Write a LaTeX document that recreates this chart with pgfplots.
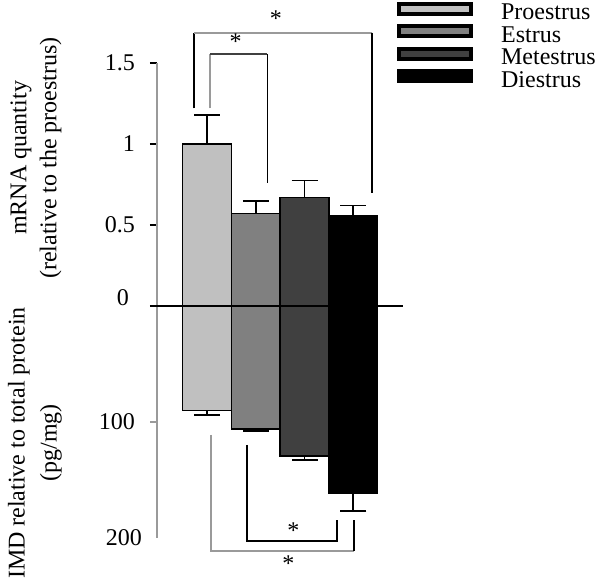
\documentclass[border=0pt]{standalone}
\usepackage{fontspec}
\setmainfont{Liberation Serif}
\usepackage{pgfplots}
\pgfplotsset{compat=1.18}
\definecolor{cP}{HTML}{C0C0C0}
\definecolor{cE}{HTML}{808080}
\definecolor{cM}{HTML}{404040}
\definecolor{cD}{HTML}{000000}
\definecolor{axgray}{HTML}{9A9A9A}

\pgfplotsset{
  halfax/.style={
    scale only axis, width=123pt,
    xmin=-1.026, xmax=4.02,
    axis x line=none, axis y line*=left,
    y axis line style={-, draw=axgray, line width=1pt},
    tick align=outside, major tick length=3.5pt,
    xtick=\empty,
    clip=false,
    ybar, bar width=1,
    /pgf/number format/assume math mode=true,
    tick label style={font=\fontsize{12}{14}\selectfont},
    yticklabel style={xshift=-4pt},
  },
  onebar/.style={fill=#1, draw=black, line width=0.75pt, bar shift=0pt,
    /pgfplots/error bars/y dir=plus,
    /pgfplots/error bars/y explicit,
    /pgfplots/error bars/error mark=|,
    /pgfplots/error bars/error bar style={black, line width=0.9pt},
    /pgfplots/error bars/error mark options={black, line width=0.9pt, mark size=6.5pt}},
  legbox/.style={legend image code/.code={
    \draw[line width=2pt, draw=black, fill=#1] (1pt,0.3pt) rectangle (37pt,5.3pt);
    \path (51.5pt,2.8pt);}},
}

\begin{document}
\begin{tikzpicture}
\useasboundingbox (-78.5pt,-138.5pt) rectangle (221.5pt,153pt);

% IMD (lower half, pointing down)
\begin{axis}[halfax,
  at={(0pt,0pt)}, anchor=north west,
  height=116pt, y dir=reverse,
  ymin=0, ymax=200, ytick={100},
  ytick style={axgray, line width=0.8pt},
  extra y ticks={200},
  extra y tick style={major tick length=0pt},
]
\addplot[onebar=cP] coordinates {(0,90) +- (0,4)};
\addplot[onebar=cE] coordinates {(1,106) +- (0,1.5)};
\addplot[onebar=cM] coordinates {(2,129.3) +- (0,3.5)};
\addplot[onebar=cD] coordinates {(3,161.5) +- (0,15)};
% significance brackets
\draw[axgray, line width=0.9pt] (axis cs:0.076,111.2) -- (axis cs:0.076,211.2) -- (axis cs:3.02,211.2);
\draw[black, line width=0.9pt] (axis cs:3.02,184.5) -- (axis cs:3.02,211.2);
\draw[black, line width=0.9pt] (axis cs:0.827,119.8) -- (axis cs:0.827,202.6) -- (axis cs:2.67,202.6) -- (axis cs:2.67,184.5);
\node[font=\fontsize{12}{14}\selectfont, yshift=1.5pt] at (axis cs:1.77,196) {*};
\node[font=\fontsize{12}{14}\selectfont, yshift=1.5pt] at (axis cs:1.67,224.7) {*};
\end{axis}

% mRNA (upper half)
\begin{axis}[halfax,
  at={(0pt,0pt)}, anchor=south west,
  height=121.5pt,
  ymin=0, ymax=1.5, ytick={0.5,1,1.5},
  ytick style={black, line width=0.9pt},
  extra y ticks={0},
  extra y tick style={major tick length=0pt, yticklabel style={xshift=-6.5pt, yshift=4pt}},
  legend style={draw=none, fill=none, at={(rel axis cs:0.9756,1.254)}, anchor=north west,
    inner sep=0pt, row sep=-0.3pt, font=\fontsize{12}{14}\selectfont,
    nodes={inner sep=0pt, text height=8pt, text depth=2.5pt}},
  legend cell align=left,
]
\addplot[onebar=cP, legbox=cP] coordinates {(0,1.00) +- (0,0.18)};
\addlegendentry{Proestrus}
\addplot[onebar=cE, legbox=cE] coordinates {(1,0.57) +- (0,0.08)};
\addlegendentry{Estrus}
\addplot[onebar=cM, legbox=cM] coordinates {(2,0.67) +- (0,0.105)};
\addlegendentry{Metestrus}
\addplot[onebar=cD, legbox=cD] coordinates {(3,0.56) +- (0,0.06)};
\addlegendentry{Diestrus}
% significance brackets
\draw[black, line width=0.9pt] (axis cs:-0.26,1.22) -- (axis cs:-0.26,1.687);
\draw[axgray, line width=0.9pt] (axis cs:-0.26,1.687) -- (axis cs:3.376,1.687);
\draw[black, line width=0.9pt] (axis cs:3.376,1.687) -- (axis cs:3.376,0.696);
\draw[axgray, line width=0.9pt] (axis cs:0.062,1.22) -- (axis cs:0.062,1.556);
\draw[black!75, line width=0.9pt] (axis cs:0.062,1.556) -- (axis cs:1.239,1.556);
\draw[black, line width=0.9pt] (axis cs:1.239,1.556) -- (axis cs:1.239,0.761);
\node[font=\fontsize{12}{14}\selectfont, yshift=1.5pt] at (axis cs:1.413,1.755) {*};
\node[font=\fontsize{12}{14}\selectfont, yshift=1.5pt] at (axis cs:0.587,1.611) {*};
% zero line
\draw[black, line width=1.1pt] (axis cs:-1.17,0) -- (axis cs:4.02,0);
\end{axis}

% axis titles
\node[rotate=90, align=center, font=\fontsize{12}{15}\selectfont] at (-60.5pt,74pt)
  {mRNA quantity\\(relative to the proestrus)};
\node[rotate=90, align=center, font=\fontsize{12}{16}\selectfont] at (-61pt,-68.5pt)
  {IMD relative to total protein\\(pg/mg)};
\end{tikzpicture}
\end{document}
